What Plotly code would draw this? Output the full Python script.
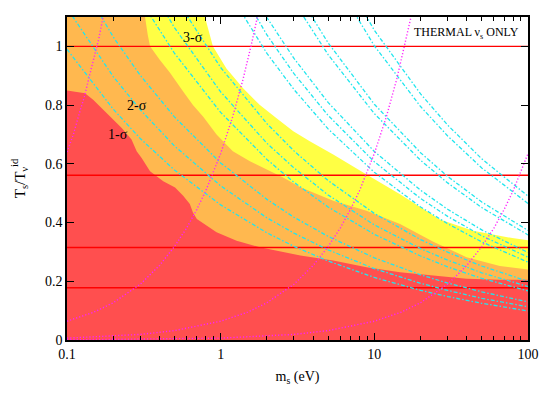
import math
import plotly.graph_objects as go

# confidence regions (upper boundary of each filled band)
red_m = [0.1, 0.131, 0.148, 0.19, 0.227, 0.263, 0.284, 0.306, 0.347, 0.423, 0.505, 0.57, 0.63, 0.66, 0.70,
         0.94, 1.27, 1.8, 2.55, 3.3, 5.4, 8.9, 14.7, 24.2, 39.8, 65.6, 100]
red_t = [0.85, 0.84, 0.818, 0.761, 0.722, 0.683, 0.643, 0.62, 0.575, 0.541, 0.519, 0.491, 0.463, 0.434, 0.412,
         0.367, 0.338, 0.316, 0.299, 0.288, 0.271, 0.248, 0.231, 0.22, 0.209, 0.205, 0.205]

orange_m = [0.1, 0.322, 0.335, 0.347, 0.40, 0.468, 0.57, 0.66, 0.77, 0.94, 1.2, 1.55, 2.55, 3.3, 5.4, 8.9,
            14.7, 24.2, 39.8, 65.6, 100]
orange_t = [1.1, 1.1, 1.04, 1.0, 0.955, 0.91, 0.846, 0.80, 0.76, 0.70, 0.643, 0.609, 0.553, 0.52, 0.474, 0.44,
            0.395, 0.335, 0.282, 0.252, 0.24]

yellow_m = [0.1, 0.79, 0.89, 1.09, 1.4, 1.8, 2.3, 2.97, 3.8, 5.4, 8.9, 14.7, 26.7, 44, 79, 100]
yellow_t = [1.1, 1.1, 1.0, 0.925, 0.857, 0.80, 0.756, 0.711, 0.677, 0.632, 0.564, 0.496, 0.41, 0.372, 0.347, 0.34]

# horizontal reference levels
levels = [1.0, 0.561, 0.315, 0.178]

# cyan dash-dot curves, sampled on a common mass grid
cyan_m = [0.1, 0.2, 0.3, 0.5, 1, 2, 3, 5, 10, 20, 30, 50, 100]
cyan_t = [
    [0.990, 0.786, 0.686, 0.579, 0.460, 0.365, 0.319, 0.269, 0.213, 0.169, 0.148, 0.125, 0.099],
    [1.130, 0.897, 0.784, 0.661, 0.525, 0.416, 0.364, 0.307, 0.243, 0.193, 0.169, 0.142, 0.113],
    [1.300, 1.032, 0.901, 0.760, 0.603, 0.479, 0.418, 0.353, 0.280, 0.222, 0.194, 0.164, 0.130],
    [1.670, 1.325, 1.158, 0.977, 0.775, 0.615, 0.537, 0.453, 0.360, 0.286, 0.249, 0.210, 0.167],
    [1.820, 1.445, 1.262, 1.064, 0.845, 0.670, 0.586, 0.494, 0.392, 0.311, 0.272, 0.229, 0.182],
    [2.000, 1.587, 1.387, 1.170, 0.928, 0.737, 0.644, 0.543, 0.431, 0.342, 0.299, 0.252, 0.200],
    [2.650, 2.103, 1.838, 1.550, 1.230, 0.976, 0.853, 0.719, 0.571, 0.453, 0.396, 0.334, 0.265],
    [2.820, 2.238, 1.955, 1.649, 1.309, 1.039, 0.907, 0.765, 0.607, 0.482, 0.421, 0.355, 0.282],
    [2.980, 2.365, 2.066, 1.743, 1.383, 1.098, 0.959, 0.809, 0.642, 0.510, 0.445, 0.375, 0.298],
    [3.580, 2.841, 2.482, 2.094, 1.662, 1.319, 1.152, 0.972, 0.771, 0.612, 0.535, 0.451, 0.358],
    [3.730, 2.960, 2.586, 2.181, 1.731, 1.374, 1.200, 1.012, 0.803, 0.638, 0.557, 0.470, 0.373],
    [4.650, 3.691, 3.224, 2.719, 2.159, 1.713, 1.496, 1.262, 1.002, 0.795, 0.695, 0.586, 0.465],
    [4.900, 3.889, 3.398, 2.866, 2.275, 1.805, 1.577, 1.330, 1.055, 0.838, 0.732, 0.617, 0.490],
]

# magenta dotted curves
mag_a_m = [0.1, 0.11, 0.12, 0.13, 0.14, 0.15, 0.16, 0.175]
mag_a_t = [0.64, 0.70, 0.77, 0.83, 0.90, 0.96, 1.02, 1.12]
mag_b_m = [0.1, 0.15, 0.2, 0.3, 0.4, 0.5, 0.6, 0.7, 0.8, 1.0, 1.2, 1.4, 1.6, 1.75]
mag_b_t = [0.064, 0.095, 0.127, 0.19, 0.254, 0.318, 0.381, 0.445, 0.508, 0.635, 0.762, 0.889, 1.016, 1.11]
mag_c_m = [0.1, 0.3, 0.5, 1, 1.5, 2, 3, 4, 5, 6, 7, 8, 10, 12, 14, 16, 17.5]
mag_c_t = [0.0064, 0.019, 0.032, 0.064, 0.095, 0.127, 0.19, 0.254, 0.318, 0.381, 0.445, 0.508, 0.635,
           0.762, 0.889, 1.016, 1.11]
mag_d_m = [0.1, 1, 3, 5, 10, 15, 20, 30, 40, 50, 60, 70, 80, 100]
mag_d_t = [0.0006, 0.0064, 0.019, 0.032, 0.064, 0.095, 0.127, 0.19, 0.254, 0.318, 0.381, 0.445, 0.508, 0.635]

x_ticks = [0.1, 1, 10, 100]
x_minor = [0.2, 0.3, 0.4, 0.5, 0.6, 0.7, 0.8, 0.9, 2, 3, 4, 5, 6, 7, 8, 9, 20, 30, 40, 50, 60, 70, 80, 90]
y_ticks = [0, 0.2, 0.4, 0.6, 0.8, 1]

FONT = "Liberation Serif"

fig = go.Figure()

for xs, ys, col in [(yellow_m, yellow_t, "#ffff44"), (orange_m, orange_t, "#ffb84f"), (red_m, red_t, "#ff4f4f")]:
    fig.add_trace(go.Scatter(x=xs, y=ys, mode="lines", fill="tozeroy", fillcolor=col,
                             line=dict(width=0), hoverinfo="skip", showlegend=False))

for lv in levels:
    fig.add_trace(go.Scatter(x=[0.1, 100], y=[lv, lv], mode="lines",
                             line=dict(color="#ff0000", width=1.4), showlegend=False))

for ys in cyan_t:
    fig.add_trace(go.Scatter(x=cyan_m, y=ys, mode="lines",
                             line=dict(color="#22e6ee", width=1.3, dash="4px,2px,1.5px,2px"),
                             showlegend=False))

for xs, ys in [(mag_a_m, mag_a_t), (mag_b_m, mag_b_t), (mag_c_m, mag_c_t), (mag_d_m, mag_d_t)]:
    fig.add_trace(go.Scatter(x=xs, y=ys, mode="lines",
                             line=dict(color="#ff22ff", width=1.4, dash="1.2px,2px"),
                             showlegend=False))

labels = [("1-σ", 0.214, 0.70), ("2-σ", 0.285, 0.80), ("3-σ", 0.66, 1.03)]
for txt, mx, ty in labels:
    fig.add_annotation(x=math.log10(mx), y=ty, text=txt, showarrow=False,
                       font=dict(family=FONT, size=14, color="black"))

fig.add_annotation(x=0.985, y=0.98, xref="paper", yref="paper", xanchor="right", yanchor="top",
                   text="THERMAL ν<sub>s</sub> ONLY", showarrow=False,
                   font=dict(family=FONT, size=12, color="black"))

# the page body adds an 8px margin, so the figure is sized to fit inside the window
fig.update_layout(
    width=542, height=385,
    margin=dict(l=59, r=22, t=7, b=53),
    paper_bgcolor="white", plot_bgcolor="white",
    font=dict(family=FONT, size=14, color="black"),
    showlegend=False,
)

fig.update_xaxes(
    type="log", range=[-1, 2],
    tickvals=x_ticks, ticktext=["0.1", "1", "10", "100"],
    ticks="inside", ticklen=7, tickwidth=1.2, tickcolor="black",
    tickfont=dict(family=FONT, size=14),
    minor=dict(tickvals=x_minor, ticks="inside", ticklen=4, tickcolor="black", showgrid=False),
    showline=True, linecolor="black", linewidth=1.5, mirror="allticks",
    showgrid=False, zeroline=False,
    title=dict(text="m<sub>s</sub> (eV)", standoff=11, font=dict(family=FONT, size=14)),
)
fig.update_yaxes(
    range=[0, 1.1],
    tickvals=y_ticks, ticktext=["0", "0.2", "0.4", "0.6", "0.8", "1"],
    ticks="inside", ticklen=7, tickwidth=1.2, tickcolor="black",
    tickfont=dict(family=FONT, size=14),
    showline=True, linecolor="black", linewidth=1.5, mirror="allticks",
    showgrid=False, zeroline=False,
    title=dict(text="T<sub>s</sub>/T<sub>ν</sub><sup>id</sup>", standoff=16, font=dict(family=FONT, size=15)),
)

fig.write_html("out.html")
